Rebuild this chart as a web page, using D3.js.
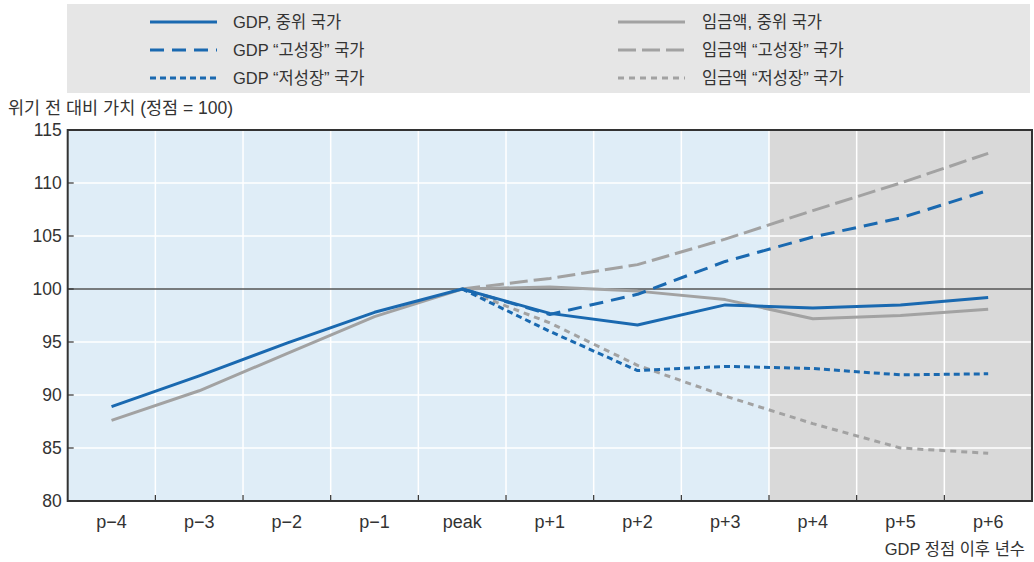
<!DOCTYPE html>
<html><head><meta charset="utf-8">
<script src="https://cdn.jsdelivr.net/npm/d3@7"></script>
<style>
body{margin:0;background:#fff;}
text{font-family:"Liberation Sans","Noto Sans CJK KR",sans-serif;fill:#333;}
</style></head>
<body><svg id="c" width="1034" height="562"></svg>
<script>
const categories = ["p−4","p−3","p−2","p−1","peak","p+1","p+2","p+3","p+4","p+5","p+6"];
const yTicks = [80,85,90,95,100,105,110,115];
const gdpMedian = [88.9,91.8,94.9,97.8,100,97.7,96.6,98.5,98.2,98.5,99.2];
const gdpHigh   = [null,null,null,null,100,97.6,99.5,102.6,104.9,106.7,109.3];
const gdpLow    = [null,null,null,null,100,96.0,92.3,92.7,92.5,91.9,92.0];
const wageMedian= [87.6,90.4,93.9,97.4,100,100.2,99.8,99.0,97.2,97.5,98.1];
const wageHigh  = [null,null,null,null,100,101.0,102.3,104.7,107.4,110.0,112.8];
const wageLow   = [null,null,null,null,100,96.8,92.8,89.9,87.3,85.0,84.5];
const seriesNames = ["GDP, 중위 국가","GDP “고성장” 국가","GDP “저성장” 국가","임금액, 중위 국가","임금액 “고성장” 국가","임금액 “저성장” 국가"];

const BLUE="#1a69b0", GRAY="#a2a2a2";
const styles = [
  {c:BLUE,w:3,d:null},{c:BLUE,w:3,d:"14,8"},{c:BLUE,w:3,d:"6,4"},
  {c:GRAY,w:3,d:null},{c:GRAY,w:3,d:"18,6"},{c:GRAY,w:3,d:"6,5"}
];
const allSeries=[gdpMedian,gdpHigh,gdpLow,wageMedian,wageHigh,wageLow];

const svg=d3.select("#c");
const L=67.7,R=1032,T=130,B=501;
const x=d3.scaleBand().domain(categories).range([L,R]).padding(0);
const y=d3.scaleLinear().domain([80,115]).range([B,T]);
const xc=c=>x(c)+x.bandwidth()/2;

// legend
svg.append("rect").attr("x",67).attr("y",4).attr("width",963).attr("height",89).attr("fill","#e6e6e6");
const legPos=[[150,233,22],[150,233,50],[150,233,78],[618,702,22],[618,702,50],[618,702,78]];
seriesNames.forEach((n,i)=>{
  const [lx,tx,ly]=legPos[i], s=styles[i];
  svg.append("line").attr("x1",lx).attr("x2",lx+67).attr("y1",ly).attr("y2",ly)
    .attr("stroke",s.c).attr("stroke-width",s.w).attr("stroke-dasharray",s.d);
  svg.append("text").attr("x",tx).attr("y",ly).attr("dy","0.35em").attr("font-size",16.5).text(n);
});

// backgrounds
svg.append("rect").attr("x",L).attr("y",T).attr("width",R-L).attr("height",B-T).attr("fill","#dfedf7");
svg.append("rect").attr("x",x("p+4")).attr("y",T).attr("width",R-x("p+4")).attr("height",B-T).attr("fill","#d9d9d9");

// grid
const g=svg.append("g");
categories.slice(1).forEach(c=>{
  g.append("line").attr("x1",x(c)).attr("x2",x(c)).attr("y1",T).attr("y2",B).attr("stroke","#fff").attr("stroke-width",1.5);
});
yTicks.filter(v=>v>80&&v<115&&v!==100).forEach(v=>{
  g.append("line").attr("x1",L).attr("x2",R).attr("y1",y(v)).attr("y2",y(v)).attr("stroke","#fff").attr("stroke-width",1.5);
});
g.append("line").attr("x1",L).attr("x2",R).attr("y1",y(100)).attr("y2",y(100)).attr("stroke","#555").attr("stroke-width",1.3);

// axes
const yAxis=d3.axisLeft(y).tickValues(yTicks).tickSize(0).tickPadding(6);
const ya=svg.append("g").attr("transform",`translate(${L},0)`).call(yAxis);
ya.select(".domain").remove();
ya.selectAll("text").attr("font-size",17.5).style("font-family",'"Liberation Sans",sans-serif').attr("fill","#333");
yTicks.filter(v=>v>80&&v<115).forEach(v=>{
  svg.append("line").attr("x1",L).attr("x2",L+6).attr("y1",y(v)).attr("y2",y(v)).attr("stroke","#333").attr("stroke-width",1.2);
});
const xAxis=d3.axisBottom(x).tickSize(0).tickPadding(14);
const xa=svg.append("g").attr("transform",`translate(0,${B})`).call(xAxis);
xa.select(".domain").remove();
xa.selectAll("text").attr("font-size",18).style("font-family",'"Liberation Sans",sans-serif').attr("fill","#333");
categories.slice(1).forEach(c=>{
  svg.append("line").attr("x1",x(c)).attr("x2",x(c)).attr("y1",B).attr("y2",B-6).attr("stroke","#333").attr("stroke-width",1.2);
});

// lines
const line=d3.line().defined(d=>d.v!=null).x(d=>xc(d.c)).y(d=>y(d.v));
const order=[3,4,5,0,1,2];
order.forEach(i=>{
  const s=styles[i];
  const data=categories.map((c,j)=>({c,v:allSeries[i][j]}));
  svg.append("path").datum(data).attr("d",line).attr("fill","none")
    .attr("stroke",s.c).attr("stroke-width",s.w).attr("stroke-dasharray",s.d).attr("stroke-linejoin","round");
});

// frame
svg.append("rect").attr("x",L).attr("y",T).attr("width",R-L).attr("height",B-T).attr("fill","none").attr("stroke","#333").attr("stroke-width",2);

// labels
svg.append("text").attr("x",8).attr("y",108).attr("dy","0.35em").attr("font-size",17.5).text("위기 전 대비 가치 (정점 = 100)");
svg.append("text").attr("x",1025).attr("y",549).attr("dy","0.35em").attr("text-anchor","end").attr("font-size",16.5).text("GDP 정점 이후 년수");
</script></body></html>
